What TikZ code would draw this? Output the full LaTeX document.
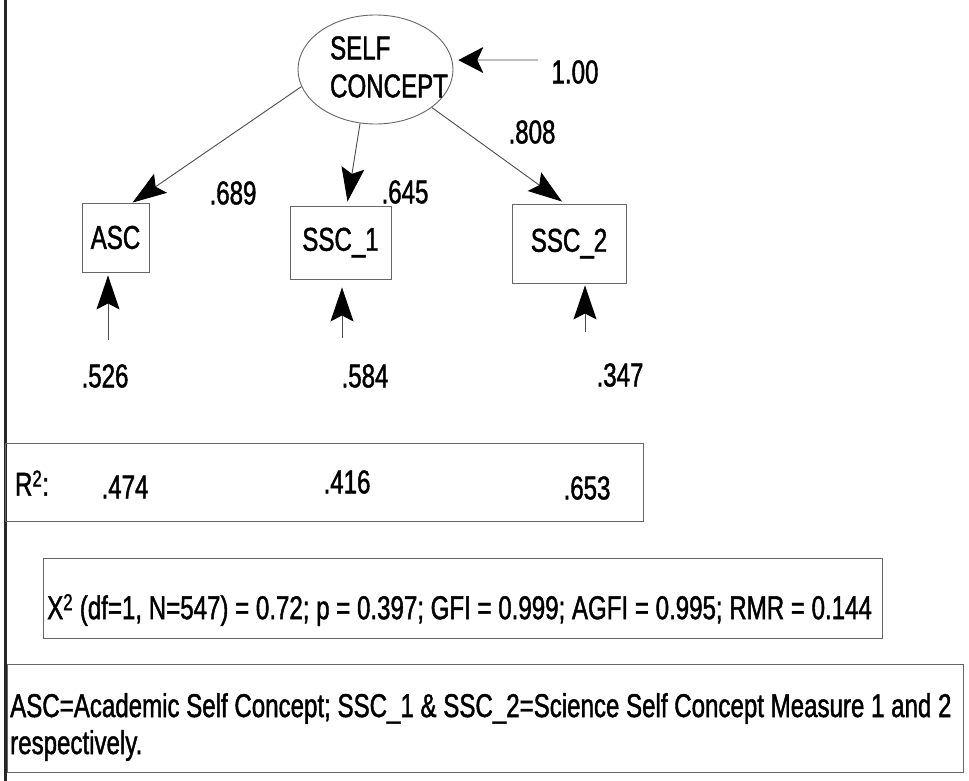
\documentclass[tikz,border=0pt]{standalone}
\usepackage{fontspec}
\setmainfont{Liberation Sans}[FakeStretch=0.73,FakeBold=1.3]
\usetikzlibrary{shapes.geometric,arrows.meta}
\begin{document}
\begin{tikzpicture}[x=1pt,y=-1pt,
  every node/.style={font=\fontsize{33}{39}\selectfont, inner sep=0pt},
  conn/.style={draw=black!70, line width=0.9pt},
  arr/.style={conn, -{Stealth[length=34pt,width=23pt,inset=6pt,color=black]}},
  arrs/.style={conn, -{Stealth[length=25pt,width=26pt,inset=6pt,color=black]}},
  obsbox/.style={draw=black!60, line width=0.9pt, rectangle},
  panel/.style={draw=black!60, line width=0.9pt, rectangle}
]
\useasboundingbox (0,0) rectangle (969,781);
\fill[white] (0,0) rectangle (969,781);
% left border
\draw[line width=3pt, black!85] (5,0) -- (5,781);

% latent
\node[ellipse, draw=black!60, line width=0.9pt, minimum width=155pt, minimum height=109pt] (sc) at (375.5,69.5) {};
\node[align=left, anchor=center] (sctext) at (389,67) {SELF\\[-1pt]CONCEPT};

% observed
\node[obsbox, minimum width=67pt, minimum height=69pt] (asc) at (115.5,237.5) {ASC};
\node[obsbox, minimum width=101pt, minimum height=73pt] (ssc1) at (340.5,242.5) {SSC\_1};
\node[obsbox, minimum width=114pt, minimum height=79pt] (ssc2) at (569,243.5) {SSC\_2};

% loadings
\draw[arr] (sc.193) -- ([xshift=17pt]asc.north);
\draw[arr] (sc.254) -- ([xshift=7pt,yshift=4pt]ssc1.north);
\draw[arr] (sc.326) -- ([xshift=-7pt,yshift=2pt]ssc2.north);

% disturbance on latent
\coordinate (d0) at (538,60);
\draw[arrs, shorten >=6pt] (d0) -- (sc.7);
\node (l100) at (575,72) {1.00};

% loading labels
\node (l689) at (233,193) {.689};
\node (l645) at (405,192) {.645};
\node (l808) at (532,132) {.808};

% error arrows
\coordinate (e1) at (108,340);
\coordinate (e2) at (342,338);
\coordinate (e3) at (585,332);
\draw[arr, shorten >=3pt] (e1) -- (e1 |- asc.south);
\draw[arr, shorten >=8pt] (e2) -- (e2 |- ssc1.south);
\draw[arr, shorten >=2pt] (e3) -- (e3 |- ssc2.south);
\node (v526) at (105,376) {.526};
\node (v584) at (365,376) {.584};
\node (v347) at (620,375) {.347};

% R2 panel
\node[panel, minimum width=638pt, minimum height=78pt] (rbox) at (324,482) {};
\node (rlab) at (32,483) {R\textsuperscript{2}:};
\node (r474) at (125,487) {.474};
\node (r416) at (347,482) {.416};
\node (r653) at (587,488) {.653};

% fit panel
\node[panel, minimum width=839pt, minimum height=80pt] (fitbox) at (462.5,598) {};
\node[anchor=west] (fittext) at (47,610) {X\textsuperscript{2} (df=1, N=547) = 0.72; p = 0.397; GFI = 0.999; AGFI = 0.995; RMR = 0.144};

% legend panel
\node[panel, minimum width=956pt, minimum height=108pt] (legbox) at (485,718) {};
\node[anchor=west, align=left] (legtext) at (10,727) {ASC=Academic Self Concept; SSC\_1 \& SSC\_2=Science Self Concept Measure 1 and 2\\[-2pt]respectively.};
\end{tikzpicture}
\end{document}
